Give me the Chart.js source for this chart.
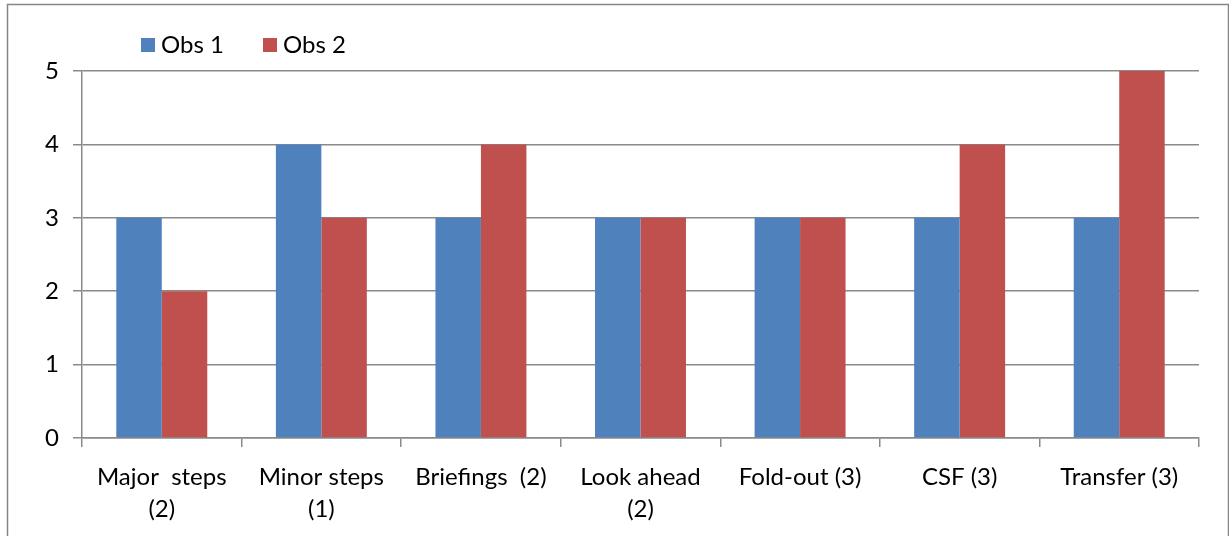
<!DOCTYPE html>
<html>
<head>
<meta charset="utf-8">
<script src="https://cdn.jsdelivr.net/npm/chart.js@4.4.1/dist/chart.umd.min.js"></script>
<style>
  html, body { margin: 0; padding: 0; background: #fff; }
  canvas { display: block; }
</style>
</head>
<body>
<canvas id="chart" width="1229" height="536"></canvas>
<script>
// categories (multi-line ones split into arrays)
const categories = [
  ["Major  steps", "(2)"],
  ["Minor steps", "(1)"],
  "Briefings  (2)",
  ["Look ahead", "(2)"],
  "Fold-out (3)",
  "CSF (3)",
  "Transfer (3)"
];
const obs1 = [3, 4, 3, 3, 3, 3, 3];
const obs2 = [2, 3, 4, 3, 3, 4, 5];
const yTicks = [0, 1, 2, 3, 4, 5];

const BLUE = "#4F81BD";
const RED = "#C0504D";
const AXIS = "#8a8a8a";
const FONT = "Lato, 'Open Sans', sans-serif";

// outer frame + legend drawn by hand
const framePlugin = {
  id: "frame",
  beforeDraw(chart) {
    const ctx = chart.ctx;
    ctx.save();
    ctx.strokeStyle = "#868686";
    ctx.lineWidth = 1.5;
    ctx.strokeRect(7.5, 4.5, 1221, 545);
    ctx.restore();
  },
  afterDraw(chart) {
    const ctx = chart.ctx;
    const items = [
      { x: 141, ds: chart.data.datasets[0] },
      { x: 263, ds: chart.data.datasets[1] }
    ];
    ctx.save();
    ctx.font = "24px " + FONT;
    ctx.textBaseline = "alphabetic";
    ctx.fillStyle = "#000";
    items.forEach(it => {
      ctx.fillStyle = it.ds.backgroundColor;
      ctx.fillRect(it.x, 38, 14, 14);
      ctx.fillStyle = "#000";
      ctx.fillText(it.ds.label, it.x + 20, 53);
    });
    ctx.restore();
  }
};

new Chart(document.getElementById("chart").getContext("2d"), {
  type: "bar",
  data: {
    labels: categories,
    datasets: [
      { label: "Obs 1", data: obs1, backgroundColor: BLUE, borderWidth: 0 },
      { label: "Obs 2", data: obs2, backgroundColor: RED, borderWidth: 0 }
    ]
  },
  options: {
    responsive: false,
    animation: false,
    layout: { padding: { top: 71, right: 30, left: 0, bottom: 0 } },
    plugins: { legend: { display: false }, tooltip: { enabled: false } },
    datasets: { bar: { categoryPercentage: 0.57, barPercentage: 1.0 } },
    scales: {
      x: {
        grid: { display: true, drawOnChartArea: false, drawTicks: true, tickLength: 9, color: AXIS, lineWidth: 1.5, offset: true },
        border: { display: true, color: AXIS, width: 1.5 },
        ticks: { color: "#000", padding: 14, maxRotation: 0, autoSkip: false, font: { family: FONT, size: 24, lineHeight: "32px" } },
        afterFit(scale) { scale.height = 98; }
      },
      y: {
        min: 0,
        max: 5,
        afterBuildTicks(scale) { scale.ticks = yTicks.map(v => ({ value: v })); },
        grid: { color: AXIS, lineWidth: 1.5, tickLength: 9 },
        border: { display: true, color: AXIS, width: 1.5 },
        ticks: { color: "#000", padding: 14, font: { family: FONT, size: 24 } },
        afterFit(scale) { scale.width = 82; }
      }
    }
  },
  plugins: [framePlugin]
});
</script>
</body>
</html>
